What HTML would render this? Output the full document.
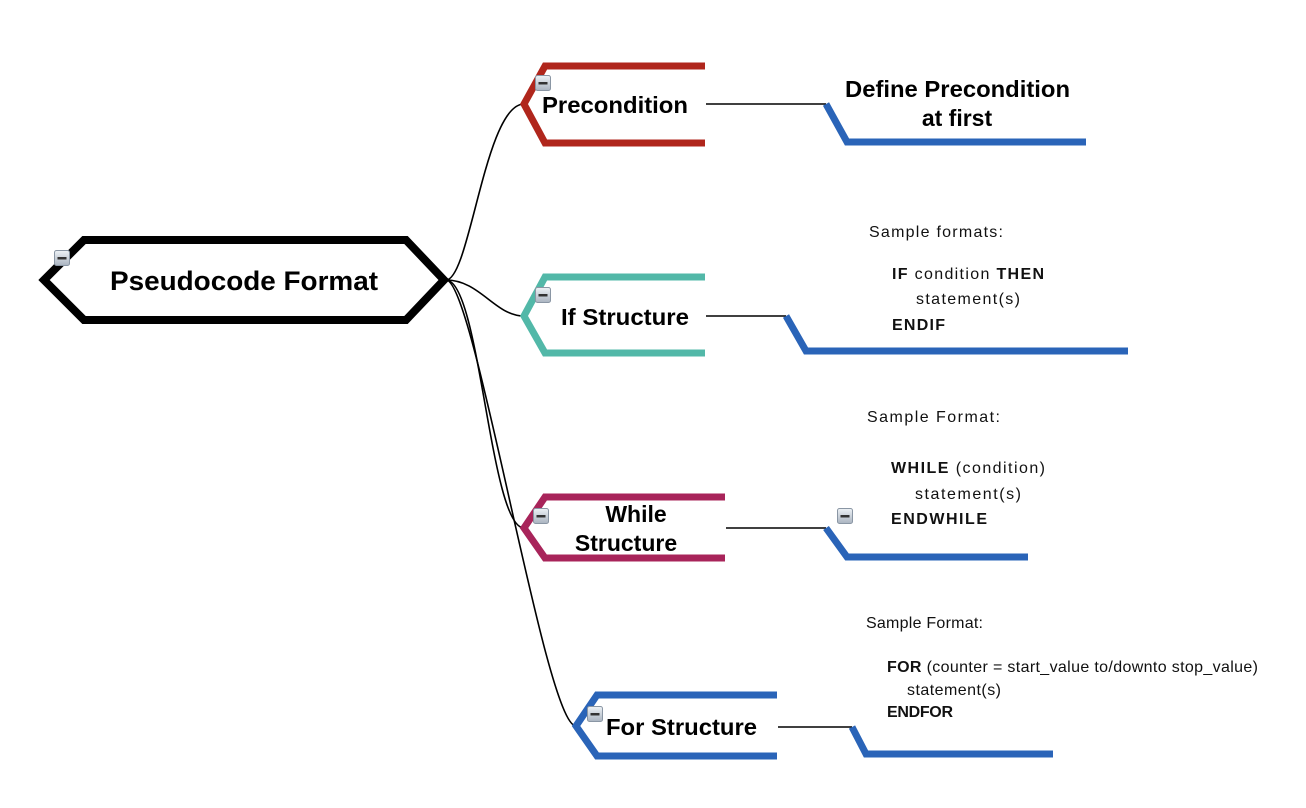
<!DOCTYPE html>
<html><head><meta charset="utf-8"><style>
body{margin:0;background:#fff}
svg{display:block}
text{font-family:"Liberation Sans",Arial,sans-serif}
.b{font-weight:bold;fill:#000}
.s{font-size:16px;fill:#111}
</style></head><body>
<svg width="1306" height="808" viewBox="0 0 1306 808" xmlns="http://www.w3.org/2000/svg">
<defs>
<linearGradient id="g" x1="0" y1="0" x2="0" y2="1"><stop offset="0" stop-color="#eef2f6"/><stop offset="1" stop-color="#aab4c0"/></linearGradient>
<g id="m"><rect x="0.5" y="0.5" width="15" height="15" rx="2" fill="url(#g)" stroke="#8a96a4"/><rect x="3.5" y="7" width="9" height="2.5" fill="#333"/></g>
</defs>
<g fill="none" stroke="#000" stroke-width="1.6">
<path d="M446,280 C470,280 485,104 524,104"/>
<path d="M446,280 C480,280 495,316 524,316"/>
<path d="M446,280 C480,280 490,528 524,528"/>
<path d="M446,280 C475,280 545,726 576,726"/>
<path d="M706,104 L826,104"/>
<path d="M706,316 L786,316"/>
<path d="M726,528 L826,528"/>
<path d="M778,727 L852,727"/>
</g>
<polygon points="44,280 84,240 406,240 444,280 406,320 84,320" fill="#fff" stroke="#000" stroke-width="8" stroke-linejoin="miter"/>
<text x="244" y="290" text-anchor="middle" class="b" font-size="27" textLength="268" lengthAdjust="spacingAndGlyphs">Pseudocode Format</text>
<g fill="none" stroke-width="7">
<polyline points="705,66 545,66 524,104 545,143 705,143" stroke="#b0261c"/>
<polyline points="705,277 545,277 524,316 545,353 705,353" stroke="#52b8a8"/>
<polyline points="725,497 545,497 524,528 545,558 725,558" stroke="#a8245a"/>
<polyline points="777,695 597,695 576,726 597,756 777,756" stroke="#2a64b8"/>
<polyline points="826,104 847,142 1086,142" stroke="#2a64b8"/>
<polyline points="786,316 806,351 1128,351" stroke="#2a64b8"/>
<polyline points="826,528 847,557 1028,557" stroke="#2a64b8"/>
<polyline points="852,727 866,754 1053,754" stroke="#2a64b8"/>
</g>
<text x="542" y="113" class="b" font-size="23" textLength="146" lengthAdjust="spacingAndGlyphs">Precondition</text>
<text x="561" y="325" class="b" font-size="23" textLength="128" lengthAdjust="spacingAndGlyphs">If Structure</text>
<text x="636" y="522" text-anchor="middle" class="b" font-size="23">While</text>
<text x="626" y="551" text-anchor="middle" class="b" font-size="23">Structure</text>
<text x="606" y="735" class="b" font-size="23" textLength="151" lengthAdjust="spacingAndGlyphs">For Structure</text>
<text x="845" y="97" class="b" font-size="23" textLength="225" lengthAdjust="spacingAndGlyphs">Define Precondition</text>
<text x="957" y="126" text-anchor="middle" class="b" font-size="23">at first</text>
<text x="869" y="237" class="s" textLength="134">Sample formats:</text>
<text x="892" y="279" class="s" textLength="152"><tspan font-weight="bold">IF</tspan> condition <tspan font-weight="bold">THEN</tspan></text>
<text x="916" y="304" class="s" textLength="104">statement(s)</text>
<text x="892" y="330" class="s" font-weight="bold" textLength="53">ENDIF</text>
<text x="867" y="422" class="s" textLength="133">Sample Format:</text>
<text x="891" y="473" class="s" textLength="154"><tspan font-weight="bold">WHILE</tspan> (condition)</text>
<text x="915" y="499" class="s" textLength="106">statement(s)</text>
<text x="891" y="524" class="s" font-weight="bold" textLength="96">ENDWHILE</text>
<text x="866" y="628" class="s" font-size="15" textLength="117">Sample Format:</text>
<text x="887" y="672" class="s" font-size="15" textLength="371"><tspan font-weight="bold">FOR</tspan> (counter = start_value to/downto stop_value)</text>
<text x="907" y="695" class="s" font-size="15" textLength="94">statement(s)</text>
<text x="887" y="717" class="s" font-size="15" font-weight="bold" textLength="66">ENDFOR</text>
<use href="#m" x="54" y="250"/>
<use href="#m" x="535" y="75"/>
<use href="#m" x="535" y="287"/>
<use href="#m" x="533" y="508"/>
<use href="#m" x="587" y="706"/>
<use href="#m" x="837" y="508"/>
</svg>
</body></html>
